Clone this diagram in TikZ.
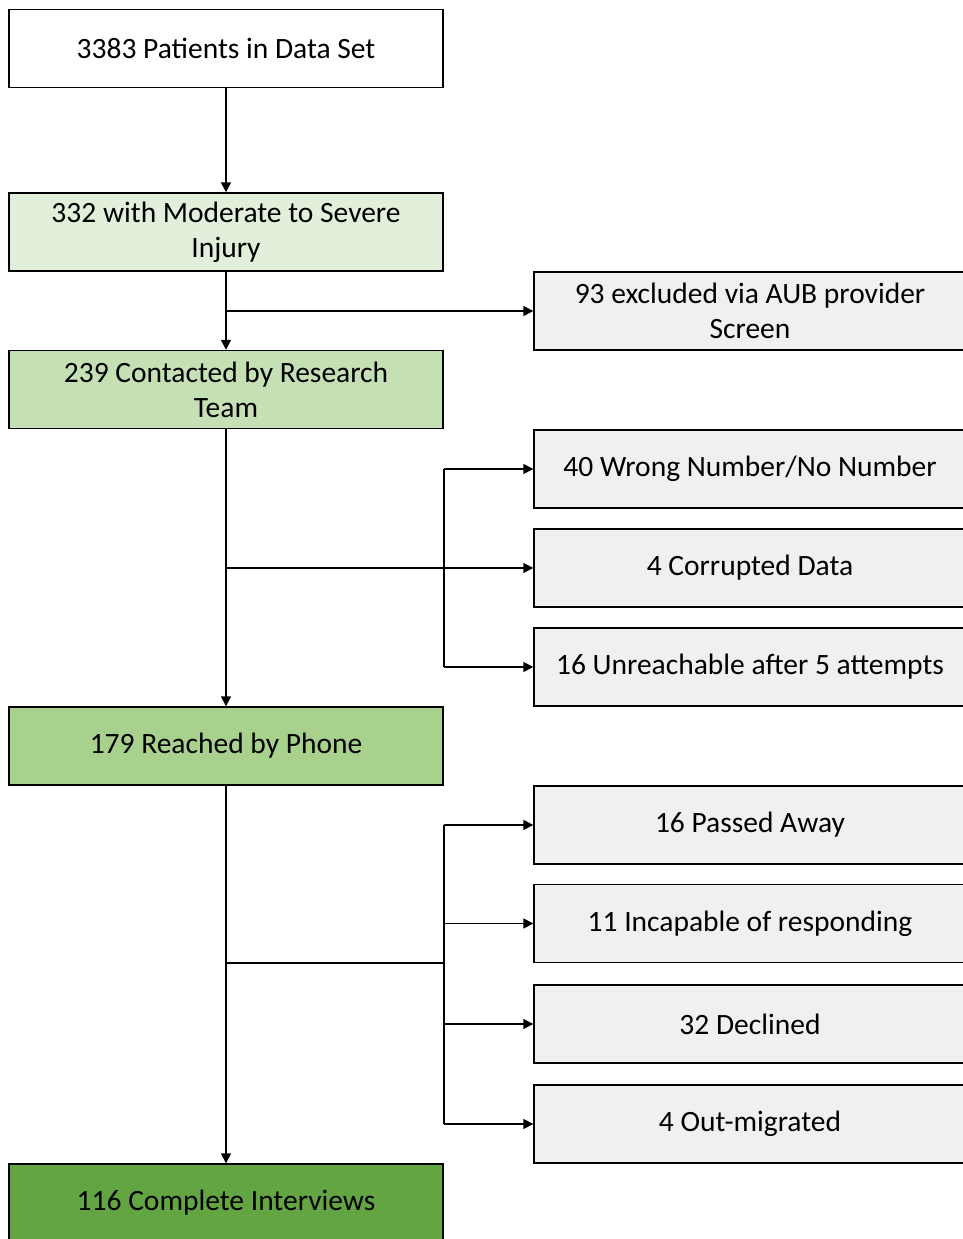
\documentclass[tikz,border=0pt]{standalone}
\usepackage{fontspec}
\setmainfont{Carlito}
\usepackage{xcolor}
\usepackage{tikz}
\usetikzlibrary{arrows.meta,positioning,calc}

\definecolor{lvlone}{HTML}{E2EFDA}
\definecolor{lvltwo}{HTML}{C5E0B4}
\definecolor{lvlthree}{HTML}{A9D18E}
\definecolor{lvlfour}{HTML}{63A543}
\definecolor{exclgray}{HTML}{F0F0F0}

\tikzset{
  flowbox/.style={draw, line width=1.4pt, minimum width=434pt, minimum height=78pt,
    align=center, font=\fontsize{29.5}{35}\selectfont, inner sep=0pt},
  exclbox/.style={flowbox, fill=exclgray, minimum width=432pt},
  arr/.style={line width=1.6pt, -{Triangle[length=10pt,width=10pt]}},
  ln/.style={line width=1.6pt}
}

\begin{document}
\begin{tikzpicture}[x=1pt,y=1pt]
		\useasboundingbox (0,0) rectangle (963,1239);
		\clip (0,0) rectangle (963,1239);
		\fill[white] (0,0) rectangle (963,1239);

		% main stream
		\node[flowbox, fill=white] (b1) at (226,1190.5) {3383 Patients in Data Set};
		\node[flowbox, fill=lvlone] (b2) at (226,1007) {332 with Moderate to Severe\\Injury};
		\node[flowbox, fill=lvltwo] (b3) at (226,849.5) {239 Contacted by Research\\Team};
		\node[flowbox, fill=lvlthree] (b4) at (226,493) {179 Reached by Phone};
		\node[flowbox, fill=lvlfour] (b5) at (226,36) {116 Complete Interviews};

		% exclusions
		\node[exclbox] (r1) at (750,928) {93 excluded via AUB provider\\Screen};
		\node[exclbox] (r2) at (750,770) {40 Wrong Number/No Number};
		\node[exclbox] (r3) at (750,671) {4 Corrupted Data};
		\node[exclbox] (r4) at (750,572) {16 Unreachable after 5 attempts};
		\node[exclbox] (r5) at (750,414) {16 Passed Away};
		\node[exclbox] (r6) at (750,315.5) {11 Incapable of responding};
		\node[exclbox] (r7) at (750,215) {32 Declined};
		\node[exclbox] (r8) at (750,115) {4 Out-migrated};

		% arrows down the main stream
		\draw[arr] (b1) -- (b2);
		\draw[arr] (b2) -- (b3);
		\draw[arr] (b3) -- (b4);
		\draw[arr] (b4) -- (b5);

		% first split
		\draw[arr] (b2.south |- r1.west) -- (r1.west);

		% second split
		\draw[arr] (b3.south |- r3.west) -- (r3.west);
		\draw[ln] (b3.east |- r2.west) -- (b3.east |- r4.west);
		\draw[arr] (b3.east |- r2.west) -- (r2.west);
		\draw[arr] (b3.east |- r4.west) -- (r4.west);

		% third split
		\draw[ln] (b4.south |- r6.south) -- (b4.east |- r6.south);
		\draw[ln] (b4.east |- r5.west) -- (b4.east |- r8.west);
		\foreach \r in {r5,r6,r7,r8}
			\draw[arr] (b4.east |- \r.west) -- (\r.west);
	\end{tikzpicture}
\end{document}
